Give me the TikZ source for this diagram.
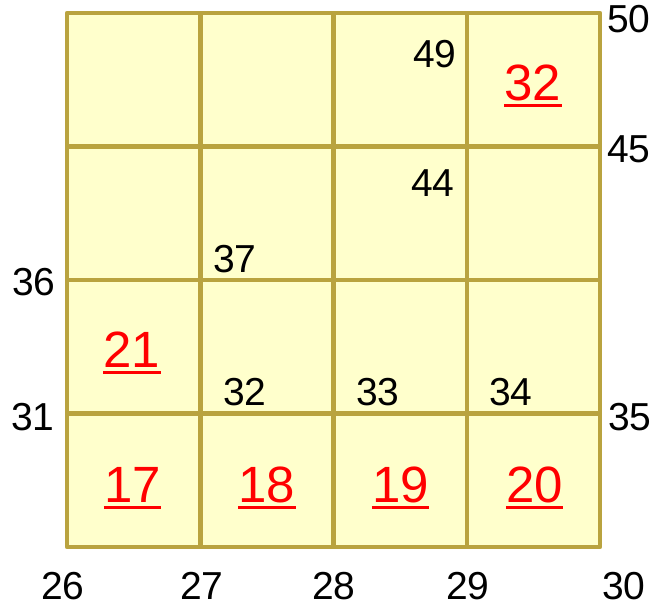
\documentclass[tikz,border=0pt]{standalone}
\usepackage{fontspec}
\setmainfont{Liberation Sans}
\usepackage{xcolor}
\definecolor{olive}{HTML}{B9A33F}
\definecolor{pale}{HTML}{FFFFCC}
\usetikzlibrary{calc}
\tikzset{
  cell/.style={draw=olive,fill=pale,line width=4.5pt,line join=round},
  num/.style={inner sep=0pt,anchor=base,font=\fontsize{39}{41}\selectfont},
  rednum/.style={num,text=red,font=\fontsize{51}{54}\selectfont},
  redline/.style={draw=red,line width=3pt},
}
\begin{document}
\begin{tikzpicture}[x=1pt,y=-1pt]
  \useasboundingbox (0,0) rectangle (654,606);
  % cells
  \foreach \i in {0,...,3}
    \foreach \j in {0,...,3}
      \draw[cell] ({67+133.25*\i},{13+133.5*\j}) rectangle +(133.25,133.5);
  % corner numbers
  \foreach \v/\x/\y in {50/629/32,45/629/162,36/34/295,31/33/430,35/630/430,
      26/63/599,27/202/599,28/334/599,29/468/599,30/624/599,
      49/435/67,44/433/196,37/235/272}
    \node[num] (n\v) at (\x,\y) {\v};
  \foreach \v/\x in {32/245,33/378,34/511}
    \node[num] (r\v) at (\x,405) {\v};
  % red numbers
  \foreach \v/\x/\y in {32/533/100,21/132/367,17/132.5/502,18/267/502,19/400.5/502,20/534.5/502} {
    \node[rednum] (m\v) at (\x,\y) {\v};
    \draw[redline] ([yshift=-5pt]m\v.base west) -- ([yshift=-5pt]m\v.base east);
  }
\end{tikzpicture}
\end{document}
